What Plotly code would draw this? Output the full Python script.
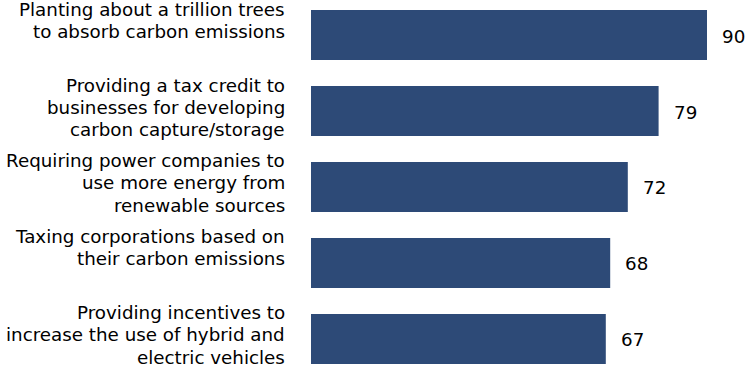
import plotly.graph_objects as go

categories = [
    "Planting about a trillion trees<br>to absorb carbon emissions",
    "Providing a tax credit to<br>businesses for developing<br>carbon capture/storage",
    "Requiring power companies to<br>use more energy from<br>renewable sources",
    "Taxing corporations based on<br>their carbon emissions",
    "Providing incentives to<br>increase the use of hybrid and<br>electric vehicles",
]
values = [90, 79, 72, 68, 67]

FONT = "DejaVu Sans, Verdana, sans-serif"
ypos = list(range(len(categories)))

fig = go.Figure()
fig.add_trace(go.Bar(
    x=values, y=ypos, orientation="h",
    marker=dict(color="#2d4a77", line=dict(width=0)),
    width=0.658, hoverinfo="skip",
))

LINE_SHIFTS = [26, 4, -18.5]  # pixel offsets of each label line from bar centre

annotations = []
for i, (c, v) in enumerate(zip(categories, values)):
    for k, line in enumerate(c.split("<br>")):
        annotations.append(dict(
            x=0, y=i, xref="x", yref="y", text=line, showarrow=False,
            xanchor="right", yanchor="middle", align="right",
            xshift=-25, yshift=LINE_SHIFTS[k], borderpad=0,
            font=dict(family=FONT, size=18.3, color="#000000"),
        ))
    annotations.append(dict(
        x=v, y=i, xref="x", yref="y", text=str(v), showarrow=False,
        xanchor="left", yanchor="middle", xshift=13, yshift=-1,
        font=dict(family=FONT, size=18.3, color="#000000"),
    ))

fig.update_layout(
    width=750, height=370,
    margin=dict(l=311, r=21, t=0, b=0),
    plot_bgcolor="white", paper_bgcolor="white",
    showlegend=False,
    xaxis=dict(range=[0, 95], visible=False, fixedrange=True),
    yaxis=dict(range=[4.408, -0.4605], visible=False, fixedrange=True),
    annotations=annotations,
)

fig.write_html(
    "out.html",
    config={"displayModeBar": False},
    post_script="document.body.style.margin='0';document.body.style.overflow='hidden';",
)
